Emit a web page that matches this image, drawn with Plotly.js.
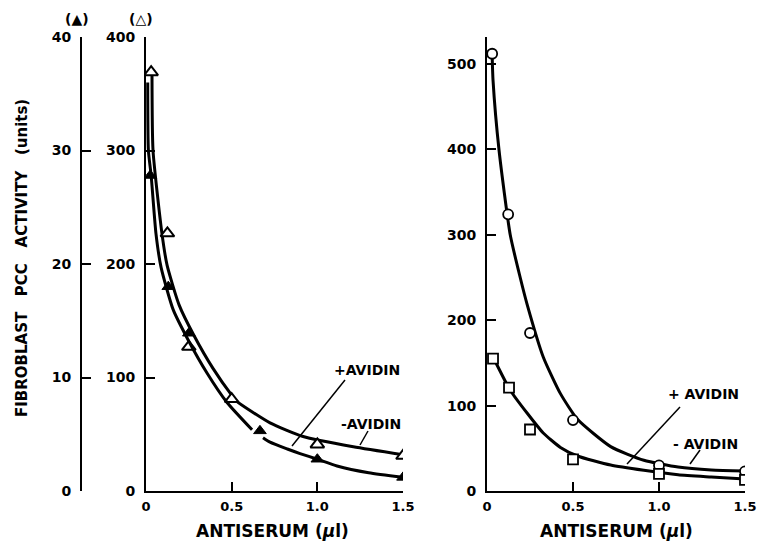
<!DOCTYPE html>
<html>
<head>
<meta charset="utf-8">
<script src="https://cdn.plot.ly/plotly-3.0.1.min.js"></script>
<style>html,body{margin:0;padding:0;background:#fff;}#chart{width:757px;height:551px;}</style>
</head>
<body>
<div id="chart"></div>
<script>
// ---- Left panel: measured points ----
const leftOpenX = [0.03, 0.125, 0.25, 0.5, 1.0, 1.5];          // open triangles (right scale, 0-400)
const leftOpenY = [369, 227, 127, 81, 41, 31];
const leftFilledX = [0.025, 0.13, 0.25, 0.665, 1.0, 1.5];      // filled triangles (left scale, 0-40)
const leftFilledY = [27.8, 18.0, 13.9, 5.3, 2.8, 1.2];

// ---- Left panel: fitted curves ----
const leftUpperCurveX = [0.035, 0.041, 0.093, 0.123, 0.193, 0.28, 0.391, 0.502, 0.53, 0.724, 0.917, 1.21, 1.5];
const leftUpperCurveY = [366, 300, 227, 199, 164, 137, 108, 84, 79, 60, 48, 39, 32];
const leftLowerCurveX = [0.010, 0.014, 0.03, 0.058, 0.088, 0.158, 0.25, 0.356, 0.473, 0.619, null, 0.683, 0.724, 0.825, 0.899, 1.0, 1.115, 1.3, 1.5];
const leftLowerCurveY = [36, 30, 27.8, 22.7, 19.7, 16.0, 13.2, 10.4, 7.8, 5.4, null, 4.7, 4.3, 3.7, 3.3, 2.8, 2.2, 1.6, 1.2];

// ---- Right panel: measured points ----
const rightCircleX = [0.03, 0.123, 0.25, 0.5, 1.0, 1.5];
const rightCircleY = [512, 324, 185, 83, 30, 23];
const rightSquareX = [0.035, 0.128, 0.25, 0.5, 1.0, 1.5];
const rightSquareY = [155, 121, 72, 37, 20, 13];

// ---- Right panel: fitted curves ----
const rightUpperCurveX = [0.03, 0.035, 0.07, 0.135, 0.193, 0.234, 0.327, 0.427, 0.526, 0.719, 0.912, 1.111, 1.304, 1.5];
const rightUpperCurveY = [510, 481, 399, 300, 250, 218, 157, 114, 84, 52, 36, 28, 24.6, 23.4];
const rightLowerCurveX = [0.03, 0.135, 0.234, 0.327, 0.427, 0.526, 0.719, 0.912, 1.111, 1.304, 1.5];
const rightLowerCurveY = [159, 118, 91, 68, 51, 41, 30.4, 24.2, 19.0, 16.4, 14];

// ---- Tick labels ----
const xTickVals = [0, 0.5, 1, 1.5];
const xTickText = ['0', '0.5', '1.0', '1.5'];
const leftInnerTicks = [0, 100, 200, 300, 400];
const leftOuterTicks = [0, 10, 20, 30, 40];
const rightTicks = [0, 100, 200, 300, 400, 500];

const W = 757, H = 551;
const px = v => v / W, py = v => 1 - v / H;
const yDom = [py(491), py(37)];
const curveLine = {color: '#000', width: 3, shape: 'spline', smoothing: 0.55};
const FONT = 'DejaVu Sans';

const traces = [
  {x: leftUpperCurveX, y: leftUpperCurveY, xaxis: 'x', yaxis: 'y', mode: 'lines', line: curveLine, connectgaps: false, hoverinfo: 'skip'},
  {x: leftLowerCurveX, y: leftLowerCurveY, xaxis: 'x', yaxis: 'y2', mode: 'lines', line: curveLine, connectgaps: false, hoverinfo: 'skip'},
  {x: leftOpenX, y: leftOpenY, xaxis: 'x', yaxis: 'y', mode: 'markers',
   marker: {symbol: 'triangle-up', size: 12, color: '#fff', line: {color: '#000', width: 2}}},
  {x: leftFilledX, y: leftFilledY, xaxis: 'x', yaxis: 'y2', mode: 'markers',
   marker: {symbol: 'triangle-up', size: 11, color: '#000', line: {color: '#000', width: 1}}},
  {x: rightUpperCurveX, y: rightUpperCurveY, xaxis: 'x2', yaxis: 'y3', mode: 'lines', line: curveLine, hoverinfo: 'skip'},
  {x: rightLowerCurveX, y: rightLowerCurveY, xaxis: 'x2', yaxis: 'y3', mode: 'lines', line: curveLine, hoverinfo: 'skip'},
  {x: rightCircleX, y: rightCircleY, xaxis: 'x2', yaxis: 'y3', mode: 'markers',
   marker: {symbol: 'circle', size: 10, color: '#fff', line: {color: '#000', width: 1.8}}},
  {x: rightSquareX, y: rightSquareY, xaxis: 'x2', yaxis: 'y3', mode: 'markers',
   marker: {symbol: 'square', size: 10, color: '#fff', line: {color: '#000', width: 1.8}}}
];

const axCommon = {showline: true, linecolor: '#000', linewidth: 2, ticks: 'inside', ticklen: 9, tickwidth: 2,
  tickcolor: '#000', showgrid: false, zeroline: false, fixedrange: true, ticklabeloverflow: 'allow',
  tickfont: {family: FONT, size: 14, color: '#000', weight: 'bold'}};

const T = (x, y, text, size, extra) => Object.assign({xref: 'paper', yref: 'paper', x: px(x), y: py(y), text: text,
  showarrow: false, xanchor: 'center', yanchor: 'middle', font: {family: FONT, size: size, color: '#000', weight: 'bold'}}, extra || {});

const layout = {
  width: W, height: H, margin: {l: 0, r: 0, t: 0, b: 0},
  paper_bgcolor: '#fff', plot_bgcolor: 'rgba(0,0,0,0)', showlegend: false,
  font: {family: FONT, color: '#000', weight: 'bold'},
  xaxis: Object.assign({}, axCommon, {domain: [px(146), px(403)], range: [0, 1.5], anchor: 'y',
    tickvals: xTickVals, ticktext: xTickText, ticklabelstandoff: 2,
    tickfont: {family: FONT, size: 13, color: '#000', weight: 'bold'}}),
  yaxis: Object.assign({}, axCommon, {domain: yDom, range: [0, 400], anchor: 'x', tickvals: leftInnerTicks, ticklabelstandoff: 6}),
  yaxis2: Object.assign({}, axCommon, {overlaying: 'y', anchor: 'free', position: px(81), side: 'left',
    range: [0, 40], tickvals: leftOuterTicks, ticklabelstandoff: 6}),
  xaxis2: Object.assign({}, axCommon, {domain: [px(487), px(745)], range: [0, 1.5], anchor: 'y3',
    tickvals: xTickVals, ticktext: xTickText, ticklabelstandoff: 2,
    tickfont: {family: FONT, size: 13, color: '#000', weight: 'bold'}}),
  yaxis3: Object.assign({}, axCommon, {domain: yDom, range: [0, 531.6], anchor: 'x2', tickvals: rightTicks, ticklabelstandoff: 6}),
  annotations: [
    T(22, 258, 'FIBROBLAST   PCC   ACTIVITY   (units)', 15, {textangle: -90}),
    T(77, 19, '(▲)', 14),
    T(141, 19, '(△)', 14),
    T(272, 531, 'ANTISERUM (<i>μ</i>l)', 17),
    T(616, 531, 'ANTISERUM (<i>μ</i>l)', 17),
    T(367, 370, '+AVIDIN', 14),
    T(371, 424, '-AVIDIN', 14),
    T(703, 394, '+ AVIDIN', 14),
    T(705, 444, '- AVIDIN', 14)
  ],
  shapes: [
    {type: 'line', xref: 'paper', yref: 'paper', x0: px(345), y0: py(380), x1: px(292), y1: py(446), line: {color: '#000', width: 1.5}},
    {type: 'line', xref: 'paper', yref: 'paper', x0: px(368), y0: py(431), x1: px(360), y1: py(445), line: {color: '#000', width: 1.5}},
    {type: 'line', xref: 'paper', yref: 'paper', x0: px(680), y0: py(407), x1: px(627), y1: py(464), line: {color: '#000', width: 1.5}},
    {type: 'line', xref: 'paper', yref: 'paper', x0: px(700), y0: py(450), x1: px(690), y1: py(464), line: {color: '#000', width: 1.5}}
  ]
};

Plotly.newPlot('chart', traces, layout, {staticPlot: true, displayModeBar: false});
</script>
</body>
</html>
